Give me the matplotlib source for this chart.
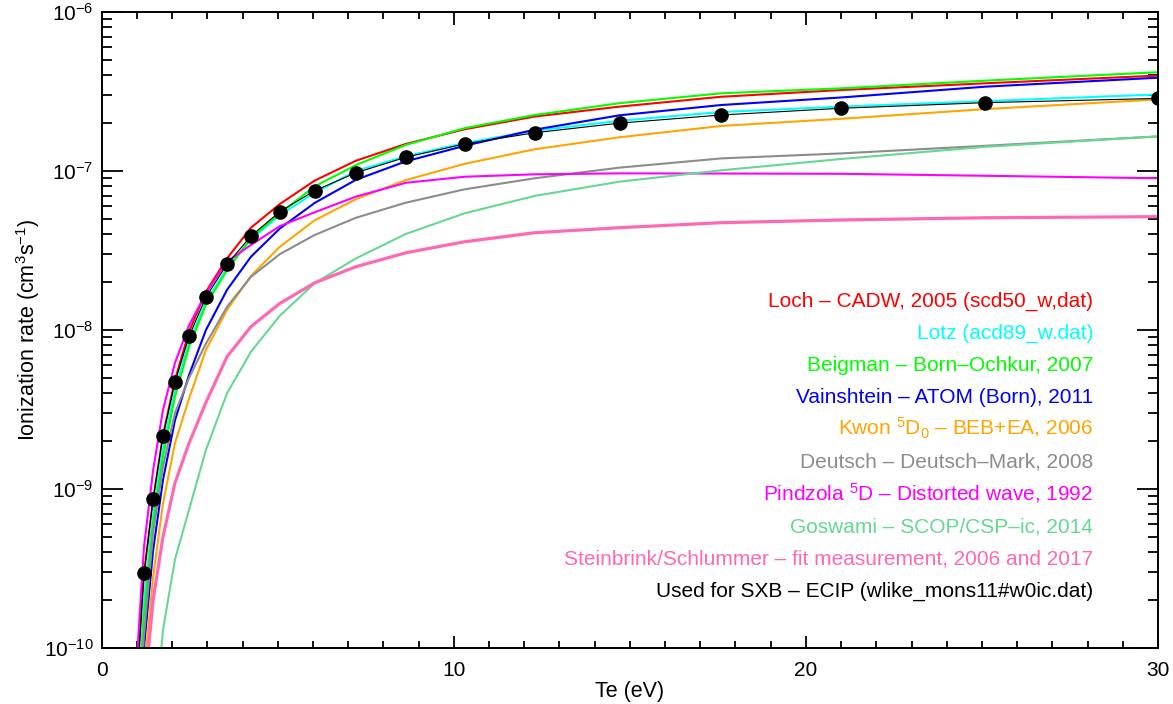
import numpy as np
import matplotlib
matplotlib.use('Agg')
from matplotlib import pyplot as plt
from matplotlib.ticker import MultipleLocator, FixedLocator, NullFormatter

plt.rcParams['font.family'] = ['Liberation Sans', 'DejaVu Sans']
plt.rcParams['mathtext.fontset'] = 'custom'
plt.rcParams['mathtext.rm'] = 'Liberation Sans'
plt.rcParams['mathtext.it'] = 'Liberation Sans'
plt.rcParams['mathtext.bf'] = 'Liberation Sans'

# Te grid (eV), shared by all curves
te = [1.0, 1.20, 1.46, 1.74, 2.08, 2.48, 2.96, 3.56, 4.24, 5.06, 6.05,
      7.22, 8.64, 10.31, 12.30, 14.71, 17.60, 21.01, 25.10, 30.0]

# ionization rates (cm^3 s^-1)
loch = [6e-11, 2.9e-10, 8.5e-10, 2.18e-9, 4.85e-9, 9.75e-9, 1.74e-8, 2.82e-8, 4.4e-8,
        6.2e-8, 8.7e-8, 1.16e-7, 1.48e-7, 1.83e-7, 2.2e-7, 2.54e-7, 2.93e-7, 3.23e-7,
        3.56e-7, 3.98e-7]
lotz = [3e-11, 2e-10, 7.0e-10, 1.85e-9, 4.2e-9, 8.4e-9, 1.51e-8, 2.44e-8, 3.72e-8,
        5.28e-8, 7.3e-8, 1.0e-7, 1.24e-7, 1.50e-7, 1.79e-7, 2.07e-7, 2.35e-7, 2.54e-7,
        2.75e-7, 3.03e-7]
beigman = [2.5e-11, 1.6e-10, 6.1e-10, 1.6e-9, 3.8e-9, 7.85e-9, 1.44e-8, 2.38e-8, 3.78e-8,
           5.42e-8, 8.0e-8, 1.09e-7, 1.46e-7, 1.86e-7, 2.25e-7, 2.67e-7, 3.08e-7, 3.31e-7,
           3.70e-7, 4.18e-7]
vainshtein = [2e-11, 1e-10, 4.1e-10, 1.14e-9, 2.7e-9, 5.2e-9, 1.0e-8, 1.79e-8, 2.89e-8,
              4.35e-8, 6.3e-8, 8.8e-8, 1.15e-7, 1.44e-7, 1.82e-7, 2.24e-7, 2.60e-7, 2.90e-7,
              3.39e-7, 3.86e-7]
kwon = [1.5e-11, 7e-11, 2.8e-10, 8.1e-10, 1.94e-9, 3.7e-9, 7.5e-9, 1.34e-8, 2.19e-8,
        3.34e-8, 4.9e-8, 6.65e-8, 8.77e-8, 1.11e-7, 1.37e-7, 1.63e-7, 1.92e-7, 2.13e-7,
        2.45e-7, 2.82e-7]
deutsch = [2.5e-11, 1.2e-10, 5.3e-10, 1.38e-9, 3.0e-9, 5.0e-9, 8.2e-9, 1.4e-8, 2.16e-8,
           3.0e-8, 3.96e-8, 5.08e-8, 6.32e-8, 7.67e-8, 9.0e-8, 1.05e-7, 1.20e-7, 1.29e-7,
           1.44e-7, 1.65e-7]
pindzola = [8.5e-11, 4.3e-10, 1.31e-9, 3.14e-9, 6.2e-9, 1.07e-8, 1.70e-8, 2.69e-8, 3.43e-8,
            4.5e-8, 5.5e-8, 6.9e-8, 8.43e-8, 9.2e-8, 9.53e-8, 9.66e-8, 9.64e-8, 9.6e-8,
            9.33e-8, 9.0e-8]
goswami = [1e-12, 5e-12, 2.5e-11, 1.3e-10, 3.6e-10, 7.4e-10, 1.76e-9, 4.0e-9, 7.31e-9,
           1.23e-8, 1.97e-8, 2.82e-8, 4.02e-8, 5.42e-8, 6.97e-8, 8.57e-8, 1.01e-7, 1.19e-7,
           1.42e-7, 1.65e-7]
steinbrink = [1e-11, 5e-11, 2.0e-10, 5.0e-10, 1.09e-9, 1.94e-9, 3.5e-9, 6.8e-9, 1.05e-8,
              1.47e-8, 1.98e-8, 2.5e-8, 3.06e-8, 3.59e-8, 4.09e-8, 4.4e-8, 4.73e-8, 4.92e-8,
              5.08e-8, 5.16e-8]
ecip = [6e-11, 2.95e-10, 8.65e-10, 2.16e-9, 4.69e-9, 9.12e-9, 1.61e-8, 2.59e-8, 3.90e-8,
        5.55e-8, 7.52e-8, 9.75e-8, 1.22e-7, 1.48e-7, 1.74e-7, 2.0e-7, 2.25e-7, 2.48e-7,
        2.69e-7, 2.86e-7]

labels = ['Loch \u2013 CADW, 2005 (scd50_w,dat)',
          'Lotz (acd89_w.dat)',
          'Beigman \u2013 Born\u2013Ochkur, 2007',
          'Vainshtein \u2013 ATOM (Born), 2011',
          'Kwon $^{5}$D$_{0}$ \u2013 BEB+EA, 2006',
          'Deutsch \u2013 Deutsch\u2013Mark, 2008',
          'Pindzola $^{5}$D \u2013 Distorted wave, 1992',
          'Goswami \u2013 SCOP/CSP\u2013ic, 2014',
          'Steinbrink/Schlummer \u2013 fit measurement, 2006 and 2017',
          'Used for SXB \u2013 ECIP (wlike_mons11#w0ic.dat)']
colors = ['#ff0000', '#00ffff', '#00ff00', '#0000ff', '#ffa500',
          '#8c8c8c', '#ff00ff', '#66d891', '#ff69b4', '#000000']
series = [loch, lotz, beigman, vainshtein, kwon, deutsch, pindzola, goswami, steinbrink]

fig = plt.figure(figsize=(11.73, 7.04), dpi=100)
ax = fig.add_axes([0.0867, 0.0795, 0.9005, 0.9035])

for y, c in zip(series, colors):
    lw = 2.3 if c == '#ff69b4' else 1.5
    ax.plot(te, y, color=c, lw=lw)
ax.plot(te, ecip, color='k', lw=0.8, marker='o', ms=9.5)

ax.set_yscale('log')
ax.set_xlim(0, 30)
ax.set_ylim(1e-10, 1e-6)

decades = [1e-10, 1e-9, 1e-8, 1e-7, 1e-6]
ax.set_xticks([0, 10, 20, 30])
ax.xaxis.set_minor_locator(MultipleLocator(1))
ax.yaxis.set_major_locator(FixedLocator(decades))
ax.yaxis.set_minor_locator(FixedLocator([d * k for d in decades[:-1] for k in range(2, 10)]))
ax.yaxis.set_minor_formatter(NullFormatter())

ax.tick_params(axis='both', which='both', direction='in', top=True, right=True,
               labelsize=15, width=1.3)
ax.tick_params(axis='x', which='major', length=9, pad=9)
ax.tick_params(axis='x', which='minor', length=4.7)
ax.tick_params(axis='y', which='major', length=15, pad=6)
ax.tick_params(axis='y', which='minor', length=7.5)
for s in ax.spines.values():
    s.set_linewidth(1.4)

ax.set_xlabel('Te (eV)', fontsize=15.5, labelpad=1)
ax.set_ylabel('Ionization rate (cm$^{3}$s$^{-1}$)', fontsize=15.5, labelpad=1)

for i, (lab, c) in enumerate(zip(labels, colors)):
    ax.text(0.9385, 0.5365 - i * 0.0506, lab, color=c, fontsize=15,
            ha='right', va='baseline', transform=ax.transAxes)

fig.savefig('out.png', dpi=100)
